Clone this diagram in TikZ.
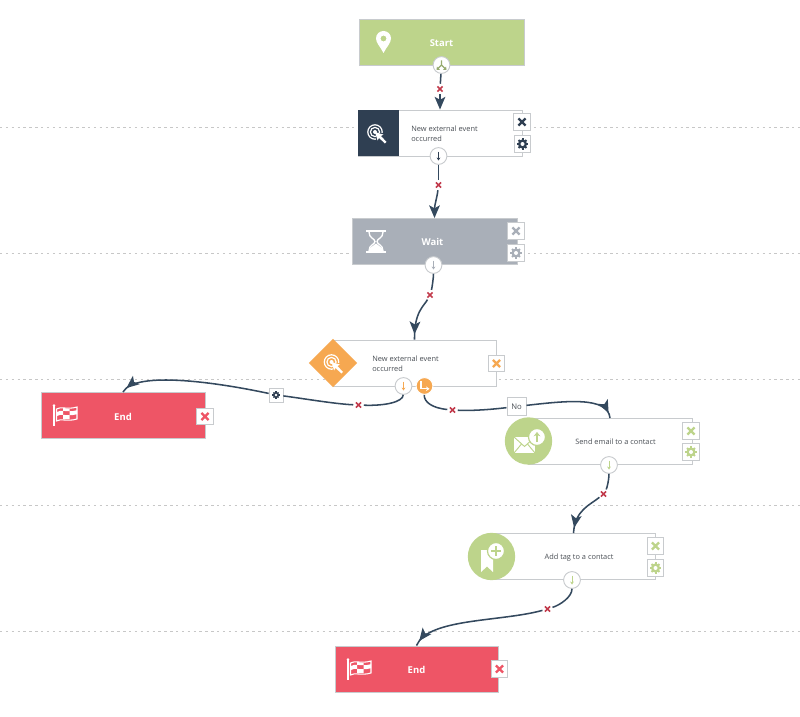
\documentclass[tikz,border=0pt]{standalone}
\usepackage{fontspec}
\setmainfont{Open Sans}
\usetikzlibrary{arrows.meta,shadows,decorations.markings,shapes.geometric}
\definecolor{cGreen}{HTML}{BDD48B}
\definecolor{cDark}{HTML}{2F3F52}
\definecolor{cGrey}{HTML}{A9AFB8}
\definecolor{cOrange}{HTML}{F6A851}
\definecolor{cRed}{HTML}{EE5566}
\definecolor{cCross}{HTML}{C23B4C}
\definecolor{cLine}{HTML}{34495E}
\definecolor{cEdge}{HTML}{C8CBCE}
\definecolor{cText}{HTML}{4A4F55}
\tikzset{
  x=.75pt,y=-.75pt,
  guide/.style={draw=black!22,line width=.5pt,dash pattern=on 1.8pt off 2.6pt},
  card/.style={rectangle,draw=cEdge,line width=.7pt,fill=#1,inner sep=0pt,minimum height=34.5pt,
    general shadow={shadow xshift=.7pt,shadow yshift=-.7pt,fill=black!18}},
  cardw/.style={minimum width=#1*.75pt},
  bigtext/.style={text=white,font=\fontsize{7.1}{8}\selectfont\bfseries,inner sep=0pt},
  smalltext/.style={text=cText,font=\fontsize{5.55}{7.3}\selectfont,inner sep=0pt,align=left},
  btn/.style={rectangle,draw=cEdge,line width=.6pt,fill=white,minimum size=12.4pt,inner sep=0pt},
  tinybtn/.style={rectangle,draw=cEdge,line width=.6pt,fill=white,minimum size=10.4pt,inner sep=0pt},
  nobtn/.style={rectangle,draw=cEdge,line width=.6pt,fill=white,minimum width=14.4pt,minimum height=13.5pt,inner sep=0pt,text=cText,font=\fontsize{5.8}{7}\selectfont},
  port/.style={circle,draw=cEdge,line width=.7pt,fill=#1,minimum size=12.6pt,inner sep=0pt},
  xspot/.style={circle,minimum size=7.5pt,inner sep=0pt},
  iconbg/.style={circle,fill=cGreen,minimum size=35.5pt,inner sep=0pt},
  diam/.style={diamond,fill=cOrange,minimum size=36.5pt,inner sep=0pt,aspect=1},
  wire/.style={draw=cLine,line width=1.15pt},
  wirehead/.style={wire,-{Stealth[length=9.5pt,width=8pt,inset=2.2pt]}},
  midhead/.style={wire,postaction={decorate},decoration={markings,mark=at position -4pt with {\arrow{Stealth[length=9.5pt,width=8pt,inset=2.2pt]}}}},
  crossicon/.pic={
    \draw[#1,line width=1.7pt] (-3.6,-3.6) -- (3.6,3.6) (-3.6,3.6) -- (3.6,-3.6);
  },
  smallcross/.pic={
    \draw[cCross,line width=1.2pt] (-2.6,-2.6) -- (2.6,2.6) (-2.6,2.6) -- (2.6,-2.6);
  },
  gearicon/.pic={
    \foreach \a in {0,45,...,315}{\draw[#1,line width=1.5pt] (0,0) -- (\a:5.6);}
    \fill[#1] (0,0) circle[radius=4.6];
    \fill[white] (0,0) circle[radius=2];
  },
  tinygear/.pic={
    \foreach \a in {0,45,...,315}{\draw[cDark,line width=.9pt] (0,0) -- (\a:3.6);}
    \fill[cDark] (0,0) circle[radius=3];
    \fill[white] (0,0) circle[radius=1.3];
  },
  portarrow/.pic={
    \draw[#1,line width=.75pt,-{Stealth[length=2.2pt,width=2.8pt]}] (0,-4.5) -- (0,4.5);
  },
  pinicon/.pic={
    \fill[white,even odd rule] (0,11) .. controls (-3,5) and (-7.5,1) .. (-7.5,-3.5)
      .. controls (-7.5,-8) and (-4,-11) .. (0,-11) .. controls (4,-11) and (7.5,-8) .. (7.5,-3.5)
      .. controls (7.5,1) and (3,5) .. (0,11) -- cycle (0,-3.5) circle[radius=3];
  },
  targeticon/.pic={
    \draw[white,line width=.9pt] (0,0) circle[radius=7.2];
    \draw[white,line width=.9pt] (0,0) circle[radius=4.6];
    \fill[white] (0,0) circle[radius=2];
    \fill[#1] (1,1) -- (13,1) -- (13,13) -- (1,13) -- cycle;
    \fill[white] (0,0) -- (8.5,2.6) -- (5.8,4) -- (11.5,9.8) -- (9.8,11.5) -- (4,5.8) -- (2.6,8.5) -- cycle;
  },
  hourglass/.pic={
    \fill[white] (-10,-11.5) rectangle (10,-9.5);
    \fill[white] (-10,9.5) rectangle (10,11.5);
    \draw[white,line width=1pt] (-7,-9.5) .. controls (-7,-3) and (-1,-3) .. (-1,0)
      .. controls (-1,3) and (-7,3) .. (-7,9.5);
    \draw[white,line width=1pt] (7,-9.5) .. controls (7,-3) and (1,-3) .. (1,0)
      .. controls (1,3) and (7,3) .. (7,9.5);
    \fill[white] (0,2) .. controls (-2,4) and (-7,6) .. (-7,9.5) -- (7,9.5) .. controls (7,6) and (2,4) .. (0,2) -- cycle;
  },
  flagicon/.pic={
    \draw[white,line width=.9pt] (-11,-9) -- (-11,11);
    \fill[white] (-11,-9.5) circle[radius=1.4];
    \draw[white,line width=.8pt] (-8.5,-6) .. controls (-4,-9) and (2,-5) .. (12,-8) -- (12,4)
      .. controls (2,7) and (-4,3) .. (-8.5,6) -- cycle;
    \fill[white] (-8.5,-2.8) .. controls (-6,-4.2) and (-4,-4.4) .. (-2,-4.2) -- (-2,-.2) .. controls (-4,-.4) and (-6,-.2) .. (-8.5,1.2) -- cycle;
    \fill[white] (4.5,-3.8) .. controls (7,-3.8) and (9,-4) .. (12,-4.8) -- (12,-.8) .. controls (9,0) and (7,.2) .. (4.5,.2) -- cycle;
    \fill[white] (-2,-.2) .. controls (0,0) and (2,.2) .. (4.5,.2) -- (4.5,4.2) .. controls (2,4.2) and (0,4) .. (-2,3.8) -- cycle;
    \fill[white] (-2,-7.2) .. controls (0,-6.8) and (2,-6) .. (4.5,-6) -- (4.5,-3.8) .. controls (2,-3.8) and (0,-4) .. (-2,-4.2) -- cycle;
  },
  envelope/.pic={
    \fill[white] (-10.5,-8) -- (10.5,-8) -- (10.5,8) -- (-10.5,8) -- cycle;
    \draw[cGreen,line width=.7pt] (-10.5,-8) -- (0,1.5) -- (10.5,-8) (-10.5,8) -- (-3,-1) (10.5,8) -- (3,-1);
  },
  upbadge/.pic={
    \draw[cGreen,line width=.9pt,fill=white] (0,0) circle[radius=8.5];
    \draw[cGreen,line width=1.3pt,-{Stealth[length=3.2pt,width=5pt]}] (0,5) -- (0,-5);
  },
  bookmark/.pic={
    \fill[white] (-6,-11) -- (6,-11) -- (6,11) -- (0,5.5) -- (-6,11) -- cycle;
  },
  plusbadge/.pic={
    \draw[cGreen,line width=.9pt,fill=white] (0,0) circle[radius=8.5];
    \draw[cGreen,line width=1.5pt] (-5,0) -- (5,0) (0,-5) -- (0,5);
  },
  splitarrows/.pic={
    \draw[#1,line width=.85pt] (0,-4.5) -- (0,0) -- (-3.6,3.6) (0,0) -- (3.6,3.6);
    \fill[#1] (-5,4.8) -- (-1.6,4.8) -- (-4.6,1.6) -- cycle;
    \fill[#1] (5,4.8) -- (1.6,4.8) -- (4.6,1.6) -- cycle;
  },
  elbowarrow/.pic={
    \draw[white,line width=.85pt,-{Stealth[length=2.6pt,width=3.4pt]}] (-3.5,-5) -- (-3.5,2.8) -- (5,2.8);
  }
}
\begin{document}
\begin{tikzpicture}
\useasboundingbox (0,0) rectangle (800,717);
\fill[white] (0,0) rectangle (800,717);
% guide lines
\foreach \gy in {127,253,379,505,631}{\draw[guide] (0,\gy) -- (800,\gy);}
% cards
\node[card=cGreen,cardw=165] (start) at (441.5,42) {};
\node[card=white,cardw=164] (ev) at (440,133) {};
\fill[cDark] (358.3,109.6) rectangle (399,156.3);
\node[card=cGrey,cardw=165] (wait) at (434.5,241.5) {};
\node[card=white,cardw=163] (dec) at (414.5,363) {};
\node[card=cRed,cardw=164] (endA) at (123,415.5) {};
\node[card=white,cardw=164] (mail) at (610,441.5) {};
\node[card=white,cardw=163] (tag) at (573.5,556.5) {};
\node[card=cRed,cardw=163] (endB) at (416.5,669) {};
% icon backgrounds
\node[diam] (decicon) at (333,363) {};
\node[iconbg] (mailicon) at (528.5,441) {};
\node[iconbg] (tagicon) at (491.5,556.5) {};
% icons
\pic at (383.5,42) {pinicon};
\pic at (375,132) {targeticon=cDark};
\pic at (376,241.5) {hourglass};
\pic at (331.5,362) {targeticon=cOrange};
\pic at (65,415) {flagicon};
\pic at (359,669) {flagicon};
\pic at (524.5,445) {envelope};
\pic at (537,437) {upbadge};
\pic at (487,561) {bookmark};
\pic at (496,551) {plusbadge};
% labels
\node[bigtext] (tstart) at (441.5,43) {Start};
\node[smalltext,anchor=west] (tev) at (411,133.5) {New external event\\occurred};
\node[bigtext] (twait) at (432.5,242) {Wait};
\node[smalltext,anchor=west] (tdec) at (372,364) {New external event\\occurred};
\node[bigtext] (tenda) at (123,417) {End};
\node[smalltext] (tmail) at (615.5,442) {Send email to a contact};
\node[smalltext] (ttag) at (579,558) {Add tag to a contact};
\node[bigtext] (tendb) at (416.5,669.5) {End};
% ports
\node[port=white] (pstart) at (441.5,65) {};
\node[port=white] (pev) at (438.5,156) {};
\node[port=white] (pwait) at (433.5,265) {};
\node[port=white] (pdec) at (403.5,386) {};
\node[port=cOrange,draw=white] (pdecb) at (424.5,386) {};
\node[port=white] (pmail) at (609,465) {};
\node[port=white] (ptag) at (572,580) {};
\pic at (pstart) {splitarrows=cGreen!80!black};
\pic at (pev) {portarrow=cDark};
\pic at (pwait) {portarrow=cGrey};
\pic at (pdec) {portarrow=cOrange};
\pic at (pdecb) {elbowarrow};
\pic at (pmail) {portarrow=cGreen};
\pic at (ptag) {portarrow=cGreen};
% buttons
\node[btn] (bevx) at (522,122) {};
\node[btn] (bevg) at (522.5,144) {};
\node[btn] (bwx) at (516,231) {};
\node[btn] (bwg) at (516,253) {};
\node[btn] (bdx) at (496.5,363.5) {};
\node[btn] (bax) at (205,416.5) {};
\node[btn] (bmx) at (691,431) {};
\node[btn] (bmg) at (691,452) {};
\node[btn] (btx) at (655.5,546) {};
\node[btn] (btg) at (655.5,568) {};
\node[btn] (bbx) at (499.5,669) {};
\pic at (bevx) {crossicon=cDark};
\pic at (bevg) {gearicon=cDark};
\pic at (bwx) {crossicon=cGrey};
\pic at (bwg) {gearicon=cGrey};
\pic at (bdx) {crossicon=cOrange};
\pic at (bax) {crossicon=cRed};
\pic at (bmx) {crossicon=cGreen};
\pic at (bmg) {gearicon=cGreen};
\pic at (btx) {crossicon=cGreen};
\pic at (btg) {gearicon=cGreen};
\pic at (bbx) {crossicon=cRed};
% connector stops
\node[tinybtn] (gearstop) at (276,395) {};
\pic at (gearstop) {tinygear};
\node[nobtn] (nostop) at (516.5,406.5) {No};
\node[xspot] (x1) at (440,89) {};
\node[xspot] (x2) at (438.5,185) {};
\node[xspot] (x3) at (430,295) {};
\node[xspot] (x4) at (358.5,405) {};
\node[xspot] (x5) at (452.5,410) {};
\node[xspot] (x6) at (603.5,494) {};
\node[xspot] (x7) at (547.5,609) {};
\foreach \n in {x1,x2,x3,x4,x5,x6,x7}{\pic at (\n) {smallcross};}
% connectors
\draw[wire] (pstart) -- (x1);
\draw[wirehead] (x1) -- (ev.north);
\draw[wire] (pev) -- (x2);
\draw[wirehead] (x2) .. controls (437,198) and (434.5,205) .. (wait.north);
\draw[wire] (pwait) .. controls (433.5,278) and (432,288) .. (x3);
\draw[midhead] (x3) .. controls (424,306) and (414,312) .. (dec.north);
\draw[wire] (pdec) .. controls (403,402) and (385,406) .. (x4);
\draw[wire] (x4) .. controls (335,404) and (300,398) .. (gearstop);
\draw[midhead] (gearstop) .. controls (220,383) and (135,370) .. (endA.north);
\draw[wire] (pdecb) .. controls (424,402) and (432,408) .. (x5);
\draw[wire] (x5) .. controls (475,411) and (495,409) .. (nostop);
\draw[midhead] (nostop) .. controls (565,401) and (608,396) .. (mail.north);
\draw[wire] (pmail) .. controls (609,480) and (607,488) .. (x6);
\draw[midhead] (x6) .. controls (590,505) and (575,510) .. (tag.north);
\draw[wire] (ptag) .. controls (572,597) and (560,605) .. (x7);
\draw[midhead] (x7) .. controls (500,622) and (428,618) .. (endB.north);
\end{tikzpicture}
\end{document}
